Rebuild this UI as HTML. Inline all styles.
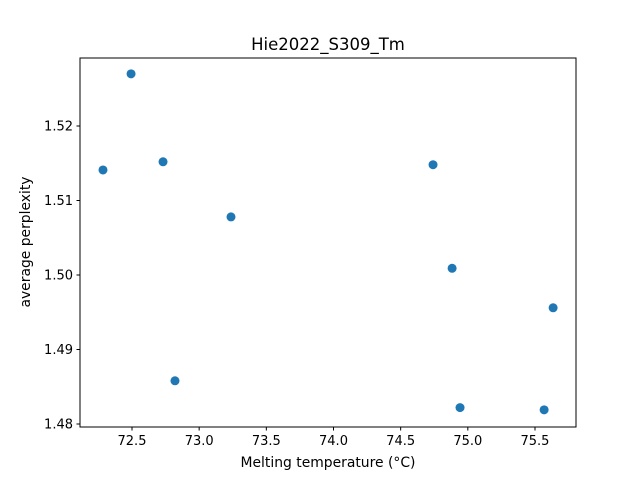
<!DOCTYPE html>
<html><head><meta charset="utf-8"><style>
body{margin:0;background:#fff;}
svg{display:block;font-family:"DejaVu Sans","Liberation Sans",sans-serif;}
</style></head><body>
<svg id="chart" width="640" height="480">
<rect width="640" height="480" fill="#fff"/>
<text x="328" y="50" text-anchor="middle" font-size="16.5">Hie2022_S309_Tm</text>
<g id="marks"></g>
<g id="axes"></g>
<rect x="80" y="58" width="496" height="369" fill="none" stroke="#000" stroke-width="1"/>
<text x="328" y="467" text-anchor="middle" font-size="13.9">Melting temperature (°C)</text>
<text transform="translate(30,242) rotate(-90)" text-anchor="middle" font-size="13.9">average perplexity</text>
</svg>
<script>
const xValues=[72.284,72.493,72.731,72.820,73.237,74.741,74.883,74.942,75.568,75.635];
const yValues=[1.5141,1.5270,1.5152,1.4858,1.5078,1.5148,1.5009,1.4822,1.4819,1.4956];
const xTicks=[72.5,73.0,73.5,74.0,74.5,75.0,75.5];
const yTicks=[1.48,1.49,1.50,1.51,1.52];
const xTickLabels=["72.5","73.0","73.5","74.0","74.5","75.0","75.5"];
const yTickLabels=["1.48","1.49","1.50","1.51","1.52"];
function sx(v){return 132+(v-72.5)*134.33;}
function sy(v){return 126-(v-1.52)*7450;}
const NS="http://www.w3.org/2000/svg";
const marks=document.getElementById('marks'),axes=document.getElementById('axes');
xValues.forEach((x,i)=>{
 const c=document.createElementNS(NS,'circle');
 c.setAttribute('cx',sx(x));c.setAttribute('cy',sy(yValues[i]));c.setAttribute('r',4.5);c.setAttribute('fill','#1f77b4');
 
 
 marks.appendChild(c);
});
xTicks.forEach((t,i)=>{
 const x=sx(t);
 const l=document.createElementNS(NS,'line');
 l.setAttribute('x1',x);l.setAttribute('x2',x);l.setAttribute('y1',427);l.setAttribute('y2',430.5);l.setAttribute('stroke','#000');
 
 
 axes.appendChild(l);
 const tx=document.createElementNS(NS,'text');
 tx.setAttribute('x',x);tx.setAttribute('y',445);tx.setAttribute('text-anchor','middle');tx.setAttribute('font-size','13');
 tx.textContent=xTickLabels[i];
 
 
 axes.appendChild(tx);
});
yTicks.forEach((t,i)=>{
 const y=sy(t);
 const l=document.createElementNS(NS,'line');
 l.setAttribute('x1',76.5);l.setAttribute('x2',80);l.setAttribute('y1',y);l.setAttribute('y2',y);l.setAttribute('stroke','#000');
 
 
 axes.appendChild(l);
 const tx=document.createElementNS(NS,'text');
 tx.setAttribute('x',73);tx.setAttribute('y',y+4.5);tx.setAttribute('text-anchor','end');tx.setAttribute('font-size','13');
 tx.textContent=yTickLabels[i];
 
 
 axes.appendChild(tx);
});
</script>
</body></html>
